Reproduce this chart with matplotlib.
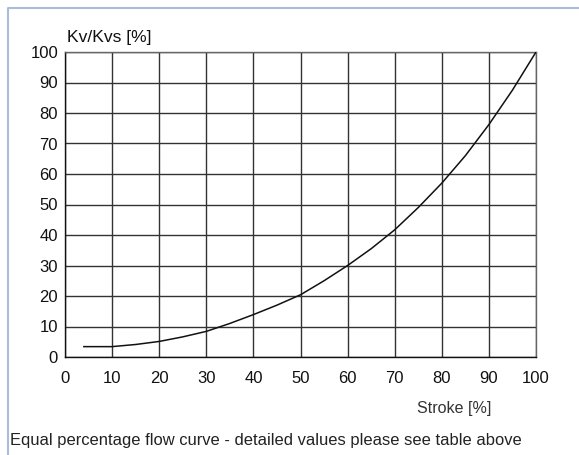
import matplotlib
matplotlib.use("Agg")
import matplotlib.pyplot as plt
from matplotlib.lines import Line2D

# values
stroke = [4, 10, 15, 20, 25, 30, 35, 40, 45, 50, 55, 60, 65, 70, 75, 80, 85, 90, 95, 100]
kv_kvs = [3.4, 3.4, 4.1, 5.1, 6.6, 8.4, 11.0, 13.9, 17.0, 20.4, 25.0, 30.0, 35.5, 41.7, 49.0,
          57.0, 66.0, 76.2, 87.5, 100]
x_ticks = [0, 10, 20, 30, 40, 50, 60, 70, 80, 90, 100]
y_ticks = [0, 10, 20, 30, 40, 50, 60, 70, 80, 90, 100]

plt.rcParams['font.family'] = ['Liberation Sans', 'DejaVu Sans']

W, H = 579, 455
fig = plt.figure(figsize=(W / 100, H / 100), dpi=100)
ax = fig.add_axes([65 / W, 1 - 357 / H, (536 - 65) / W, (357 - 52) / H])

ax.plot(stroke, kv_kvs, color='#111111', linewidth=1.1, zorder=3)

ax.set_xlim(0, 100)
ax.set_ylim(0, 100)
ax.set_xticks(x_ticks)
ax.set_yticks(y_ticks)
ax.grid(True, color='#333333', linewidth=1.0)
ax.tick_params(axis='both', length=0, labelsize=12, colors='#111111')
ax.tick_params(axis='x', pad=10)
ax.tick_params(axis='y', pad=5)
for side in ['top', 'right']:
    ax.spines[side].set_color('#666666')
for side in ['left', 'bottom']:
    ax.spines[side].set_color('#111111')
for s in ax.spines.values():
    s.set_linewidth(1.0)

fig.text(67 / W, 1 - 42 / H, 'Kv/Kvs [%]', fontsize=12.6, color='#111111', ha='left', va='baseline')
fig.text(491 / W, 1 - 413 / H, 'Stroke [%]', fontsize=11.5, color='#333333', ha='right', va='baseline')
fig.text(10 / W, 1 - 445 / H, 'Equal percentage flow curve - detailed values please see table above',
         fontsize=11.9, color='#222222', ha='left', va='baseline')

# light blue panel frame (top and left)
frame = '#a9bdd9'
fig.add_artist(Line2D([8 / W, 8 / W, 1], [0, 1 - 8 / H, 1 - 8 / H], color=frame, linewidth=1.5,
                      transform=fig.transFigure))

fig.savefig('out.png', dpi=100)
